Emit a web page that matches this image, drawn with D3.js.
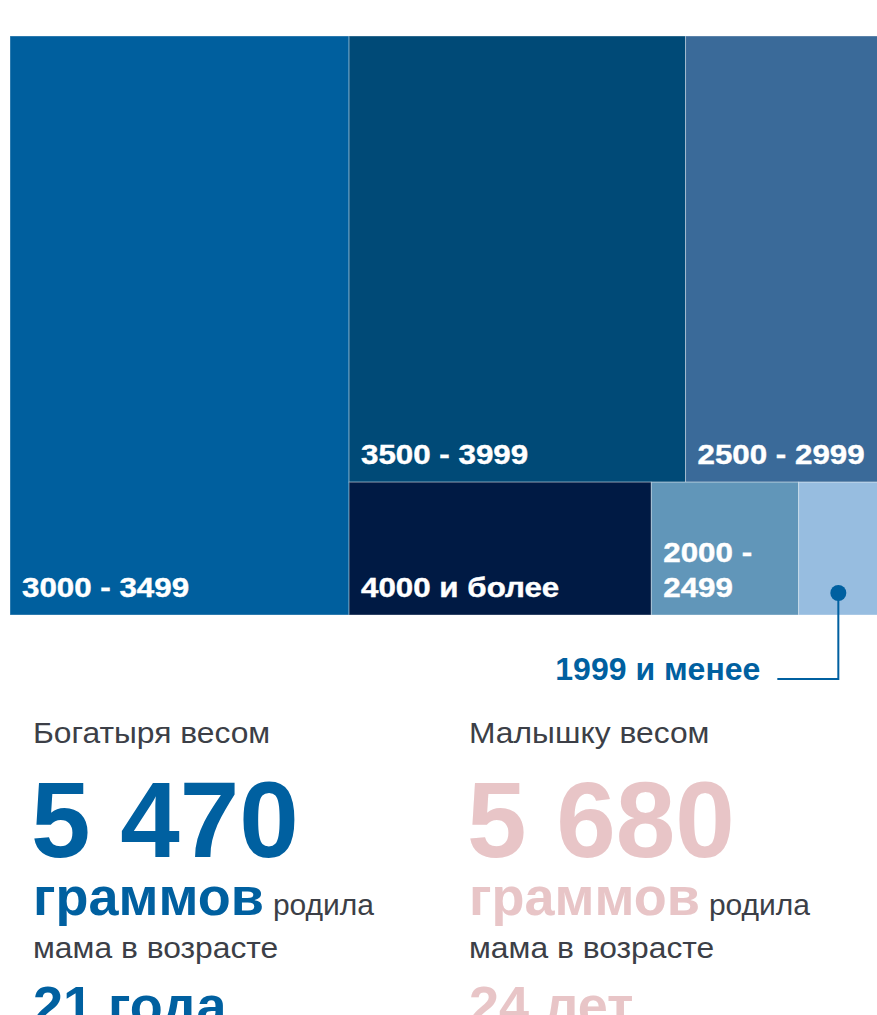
<!DOCTYPE html>
<html>
<head>
<meta charset="utf-8">
<script src="https://cdn.jsdelivr.net/npm/d3@7"></script>
<style>
  body { margin: 0; background: #fff; }
  svg { display: block; font-family: 'Liberation Sans', Arial, sans-serif; }
</style>
</head>
<body>
<div class="chart"></div>
<script>
// birth weight groups, share of newborns (%)
var categories = ['3000 - 3499', '3500 - 3999', '2500 - 2999', '4000 и более', '2000 - 2499', '1999 и менее'];
var shares = [39.1, 29.9, 17.1, 8.0, 3.9, 2.1];
var colors = ['#005f9e', '#004a77', '#3a6a99', '#001a44', '#6196b9', '#97bde0'];

// records below the chart
var heads = ['Богатыря весом', 'Малышку весом'];
var weights = ['5 470', '5 680'];
var ages = ['21 года', '24 лет'];
var recColors = ['#0060a0', '#e8c5c7'];

var width = 877,
  height = 1015,
  mapX = 10,
  mapY = 36,
  mapW = 868,
  mapH = 579,
  labelScale = 1.16;

var svg = d3
  .select('.chart')
  .append('svg')
  .attr('width', width)
  .attr('height', height);

var root = d3
  .hierarchy({ children: categories.map((c, i) => ({ name: c, value: shares[i], color: colors[i] })) })
  .sum((d) => d.value)
  .sort((a, b) => b.value - a.value);

d3.treemap().size([mapW, mapH]).tile(d3.treemapSquarify.ratio(1.15))(root);

var leaves = root.leaves();

var cell = svg
  .append('g')
  .attr('transform', 'translate(' + mapX + ',' + mapY + ')')
  .selectAll('g')
  .data(leaves)
  .enter()
  .append('g')
  .attr('transform', (d) => 'translate(' + d.x0 + ',' + d.y0 + ')');

cell
  .append('rect')
  .attr('width', (d) => d.x1 - d.x0)
  .attr('height', (d) => d.y1 - d.y0)
  .style('fill', (d) => d.data.color)
  .style('stroke', 'rgba(255,255,255,0.35)')
  .style('stroke-width', 1);

var smallest = leaves[leaves.length - 1];

// labels inside cells, bottom-left; wrap if too wide
cell
  .filter((d) => d !== smallest)
  .each(function (d) {
    var g = d3.select(this);
    var w = d.x1 - d.x0,
      h = d.y1 - d.y0;
    var probe = g
      .append('text')
      .style('font-size', '27px')
      .style('font-weight', 'bold')
      .text(d.data.name);
    var tw = probe.node().getComputedTextLength() * labelScale;
    probe.remove();
    var lines = tw > w - 14 ? d.data.name.replace(' - ', ' -|').split('|') : [d.data.name];
    lines.forEach((ln, k) => {
      var y = h - 18 - (lines.length - 1 - k) * 35;
      g.append('text')
        .attr('transform', 'translate(12,' + y + ') scale(' + labelScale + ',1)')
        .style('font-size', '27px')
        .style('font-weight', 'bold')
        .style('fill', '#fff')
        .style('stroke', '#fff')
        .style('stroke-width', 0.4)
        .text(ln);
    });
  });

// callout for the smallest group
var cx = mapX + (smallest.x0 + smallest.x1) / 2,
  cy = mapY + smallest.y1 - 22,
  ly = 679;

svg
  .append('path')
  .attr('d', 'M' + cx + ',' + cy + 'V' + ly + 'H' + (cx - 61))
  .style('fill', 'none')
  .style('stroke', '#0060a0')
  .style('stroke-width', 2);

svg.append('circle').attr('cx', cx).attr('cy', cy).attr('r', 8).style('fill', '#0060a0');

svg
  .append('text')
  .attr('x', cx - 78)
  .attr('y', ly + 1)
  .attr('text-anchor', 'end')
  .style('font-size', '32px')
  .style('font-weight', 'bold')
  .style('fill', '#0060a0')
  .text(smallest.data.name);

// records
var colX = [33, 469];

colX.forEach((x, i) => {
  var g = svg.append('g').attr('transform', 'translate(' + x + ',0)');

  g.append('text')
    .attr('transform', 'translate(0,743) scale(1.06,1)')
    .style('font-size', '30px')
    .style('fill', '#3c3f47')
    .text(heads[i]);

  g.append('text')
    .attr('x', -2)
    .attr('y', 857)
    .style('font-size', '107px')
    .style('font-weight', 'bold')
    .style('fill', recColors[i])
    .text(weights[i]);

  var t = g.append('text').attr('y', 915);
  t.append('tspan')
    .style('font-size', '54px')
    .style('font-weight', 'bold')
    .style('fill', recColors[i])
    .text('граммов');
  t.append('tspan')
    .attr('dx', 9)
    .style('font-size', '30px')
    .style('fill', '#3c3f47')
    .text('родила');

  g.append('text')
    .attr('transform', 'translate(0,958) scale(1.06,1)')
    .style('font-size', '30px')
    .style('fill', '#3c3f47')
    .text('мама в возрасте');

  g.append('text')
    .attr('y', 1024)
    .style('font-size', '54px')
    .style('font-weight', 'bold')
    .style('fill', recColors[i])
    .text(ages[i]);
});
</script>
</body>
</html>
